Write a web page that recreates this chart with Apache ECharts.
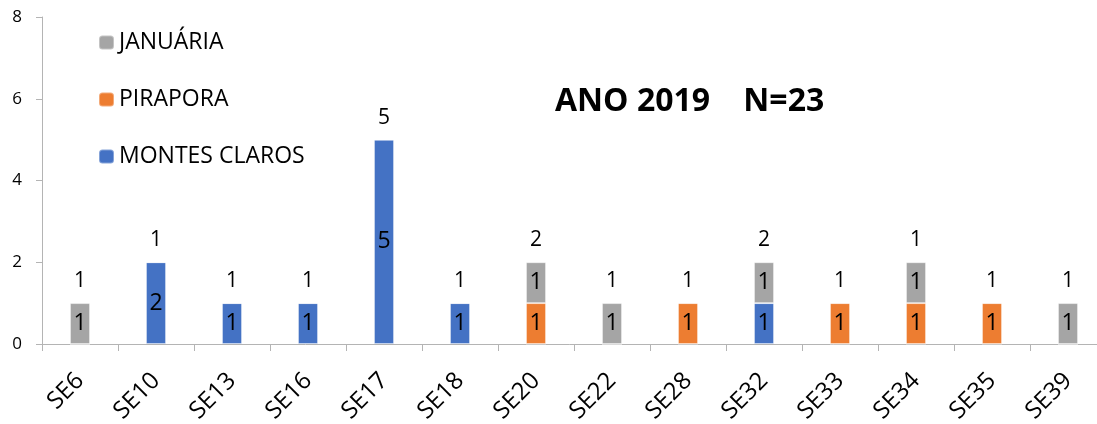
<!DOCTYPE html>
<html>
<head>
<meta charset="utf-8">
<script src="https://cdn.jsdelivr.net/npm/echarts@6/dist/echarts.min.js"></script>
<style>
html,body{margin:0;padding:0;background:#fff;}
#c{width:1097px;height:424px;}
</style>
</head>
<body>
<div id="c"></div>
<script>
var categories = ['SE6','SE10','SE13','SE16','SE17','SE18','SE20','SE22','SE28','SE32','SE33','SE34','SE35','SE39'];
var montesClaros = [0,2,1,1,5,1,0,0,0,1,0,0,0,0];
var pirapora     = [0,0,0,0,0,0,1,0,1,0,1,1,1,0];
var januaria     = [1,0,0,0,0,0,1,1,0,1,0,1,0,1];
var topLabels    = [1,1,1,1,5,1,2,1,1,2,1,1,1,1];
var yTicks = [0,2,4,6,8];

var totals = categories.map(function(_, i){ return montesClaros[i] + pirapora[i] + januaria[i]; });

var FONT = 'Open Sans';
var chart = echarts.init(document.getElementById('c'), null, {renderer:'canvas'});

function barSeries(name, data, color){
  return {
    name: name, type: 'bar', stack: 'total', data: data, barWidth: 20,
    itemStyle: {color: color, borderColor: 'rgba(255,255,255,0.35)', borderWidth: 1},
    label: {show: true, position: 'inside', color: '#000', fontFamily: FONT, fontSize: 23,
      formatter: function(p){ return p.value ? String(p.value) : ''; }},
    emphasis: {disabled: true}
  };
}

chart.setOption({
  animation: false,
  textStyle: {fontFamily: FONT},
  title: {
    text: 'ANO 2019    N=23', left: 555, top: 86, padding: 0,
    textStyle: {fontFamily: FONT, fontSize: 32, fontWeight: 'bold', color: '#000'}
  },
  legend: {
    orient: 'vertical', left: 98, top: 31, padding: 0, itemGap: 34,
    itemWidth: 15, itemHeight: 14,
    data: ['JANUÁRIA','PIRAPORA','MONTES CLAROS'],
    textStyle: {fontFamily: FONT, fontSize: 23, color: '#000'},
    selectedMode: false
  },
  grid: {left: 42, top: 17, width: 1064, height: 327, containLabel: false, outerBoundsMode: 'none'},
  xAxis: {
    type: 'category', data: categories,
    axisLine: {lineStyle: {color: '#b4b4b4', width: 1}},
    axisTick: {show: true, length: 7, lineStyle: {color: '#b4b4b4'}},
    axisLabel: {rotate: 45, margin: 33, color: '#000', fontFamily: FONT, fontSize: 24, interval: 0, hideOverlap: false}
  },
  yAxis: {
    type: 'value', min: yTicks[0], max: yTicks[yTicks.length-1], interval: 2,
    axisLine: {show: true, lineStyle: {color: '#b4b4b4', width: 1}},
    axisTick: {show: true, length: 6, lineStyle: {color: '#b4b4b4'}},
    splitLine: {show: false},
    axisLabel: {margin: 20, color: '#000', fontFamily: FONT, fontSize: 17}
  },
  series: [
    barSeries('MONTES CLAROS', montesClaros, '#4472C4'),
    barSeries('PIRAPORA', pirapora, '#ED7D31'),
    barSeries('JANUÁRIA', januaria, '#A5A5A5'),
    {
      name: 'labels', type: 'line', data: totals,
      symbol: 'circle', symbolSize: 1,
      itemStyle: {color: 'rgba(0,0,0,0)'},
      lineStyle: {opacity: 0},
      label: {show: true, position: 'top', distance: 11, color: '#000', fontFamily: FONT, fontSize: 21,
        formatter: function(p){ return String(topLabels[p.dataIndex]); }},
      emphasis: {disabled: true},
      z: 5
    }
  ]
});
</script>
</body>
</html>
